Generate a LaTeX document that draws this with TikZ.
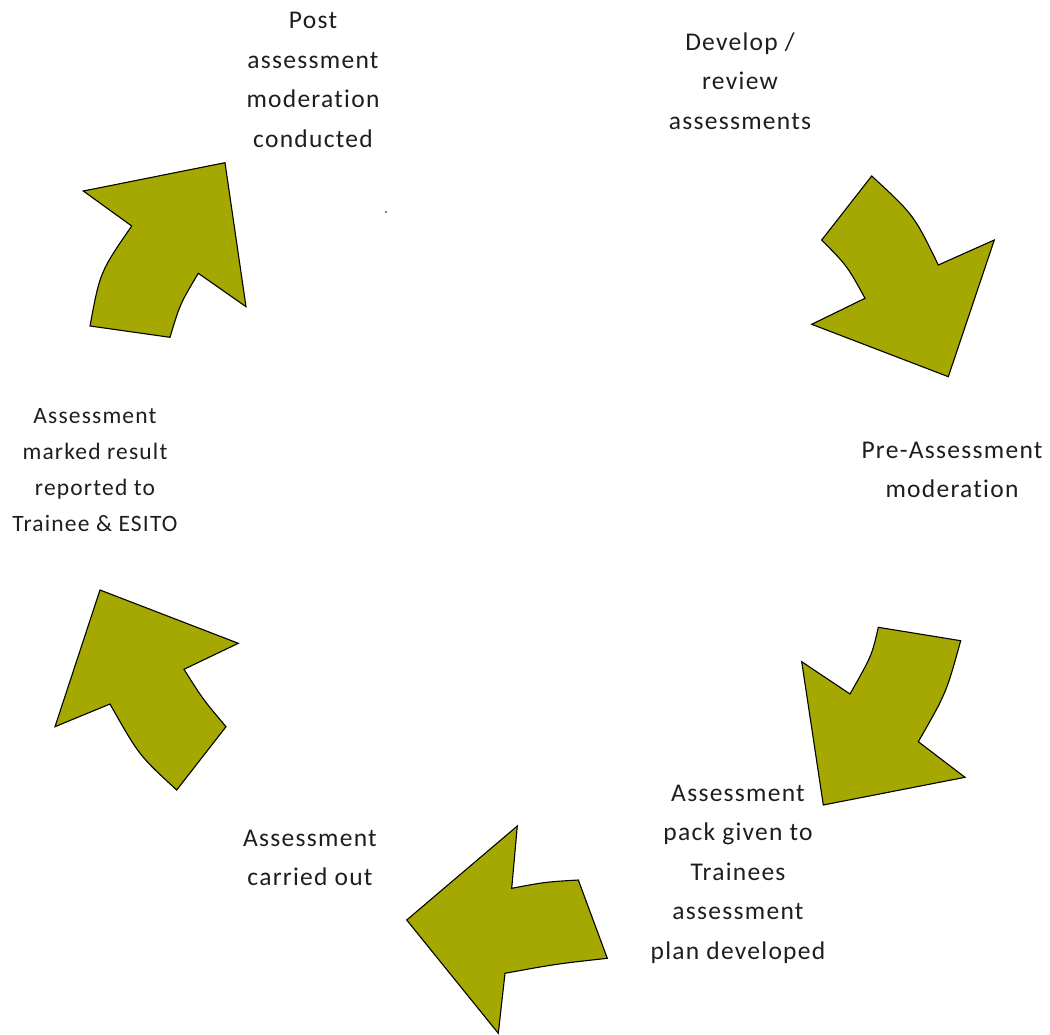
\documentclass[tikz,border=0pt]{standalone}
\usepackage{fontspec}
\setmainfont[RawFeature={-liga}, LetterSpace=5]{Carlito}
\definecolor{olivefill}{RGB}{165,168,0}
\definecolor{labeltext}{RGB}{30,30,30}
\tikzset{
  cyclearrow/.style={fill=olivefill, draw=black, line width=1.1pt, line join=miter},
  steplabel/.style={align=center, text=labeltext, font=\fontsize{25.5}{39.5}\selectfont, inner sep=0pt}
}
\begin{document}
\begin{tikzpicture}[x=1pt,y=-1pt]
\useasboundingbox (0,0) rectangle (1050,1035);

% step labels
\node[steplabel] (post) at (313,80) {Post\\assessment\\moderation\\conducted};
\node[steplabel] (dev) at (740,81) {Develop /\\review\\assessments};
\node[steplabel] (pre) at (952,470) {Pre-Assessment\\moderation};
\node[steplabel] (pack) at (738,874) {Assessment\\pack given to\\Trainees\\assessment\\plan developed};
\node[steplabel] (carried) at (310,858) {Assessment\\carried out};
\node[steplabel, font=\fontsize{23.5}{36}\selectfont] (marked) at (95,470) {Assessment\\marked result\\reported to\\Trainee \& ESITO};

% small mark near the centre
\fill (386,212) circle (0.9);

% curved block arrows of the cycle
\draw[cyclearrow] (871.7,176) .. controls (914,215) .. (938.3,265)
  -- (994.3,240) -- (948.3,376.7) -- (811.7,324.3) -- (865,298.3)
  .. controls (847.3,266) .. (821.7,240) -- cycle;

\draw[cyclearrow] (878.3,627.3) -- (960.7,640.7)
  .. controls (946.2,693.2) .. (918.3,741.7)
  -- (965,777.3) -- (823.3,805) -- (801.7,661.7) -- (850,694)
  .. controls (871.9,655.4) .. (878.3,627.3) -- cycle;

\draw[cyclearrow] (517.3,826) -- (511.7,888.3)
  .. controls (545,882) .. (578.3,880)
  -- (607.3,958.3)
  .. controls (556,964) .. (505,973.3)
  -- (498.3,1033.3) -- (406.7,920) -- cycle;

\draw[cyclearrow] (100,590) -- (238.3,643.3) -- (184,669.3)
  .. controls (203,699.4) .. (226,726.7)
  -- (176.7,790)
  .. controls (139,755.4) .. (110,704)
  -- (55,726.7) -- cycle;

\draw[cyclearrow] (225,162.7) -- (246,306.7) -- (198.3,273.3)
  .. controls (180,304) .. (170,337.3)
  -- (90,326)
  .. controls (100,272) .. (131.7,226)
  -- (83.3,191) -- cycle;
\end{tikzpicture}
\end{document}
